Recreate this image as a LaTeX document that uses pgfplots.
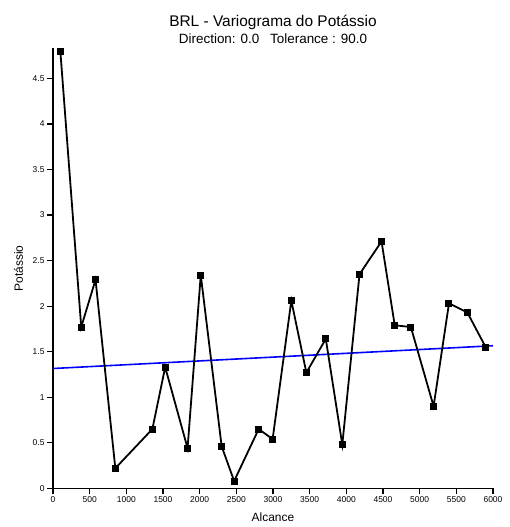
\documentclass[border=0pt]{standalone}
\usepackage{pgfplots}
\pgfplotsset{compat=1.18}
\usepackage{fontspec}
\setmainfont{Liberation Sans}
\begin{document}
\begin{tikzpicture}
\begin{axis}[
  at={(0,0)}, anchor=south west,
  scale only axis, width=440bp, height=440bp,
  xmin=0, xmax=6000, ymin=0, ymax=4.83,
  axis lines=left,
  axis line style={line width=1.6pt,-},
  xtick={0,500,...,6000},
  ytick={0,0.5,...,4.5},
  xticklabels={0,500,1000,1500,2000,2500,3000,3500,4000,4500,5000,5500,6000},
  yticklabels={0,0.5,1,1.5,2,2.5,3,3.5,4,4.5},
  tick align=outside,
  major tick length=6bp,
  tick style={line width=1.2pt,black},
  tick label style={font=\fontsize{8.5}{9}\selectfont},
  xticklabel style={yshift=1bp},
  yticklabel style={xshift=1bp},
  scaled x ticks=false,
  xlabel={Alcance},
  ylabel={Potássio},
  xlabel style={font=\fontsize{12}{14}\selectfont, yshift=-3bp},
  ylabel style={font=\fontsize{12}{14}\selectfont, yshift=3bp},
  clip=false,
]
\addplot[blue, line width=1.6pt] coordinates {(0,1.315) (6000,1.565)};
\addplot[black, line width=1.8pt, mark=square*, mark size=2.6bp, mark options={solid,fill=black}] coordinates {
(100,4.80)
(385,1.77)
(580,2.29)
(850,0.22)
(1355,0.65)
(1530,1.33)
(1835,0.44)
(2015,2.34)
(2300,0.46)
(2470,0.08)
(2805,0.65)
(2995,0.54)
(3250,2.06)
(3455,1.27)
(3720,1.64)
(3945,0.48)
(4180,2.35)
(4480,2.71)
(4660,1.79)
(4880,1.77)
(5190,0.90)
(5400,2.03)
(5650,1.93)
(5900,1.55)
};
\end{axis}
\node[anchor=base, font=\fontsize{15.5}{18}\selectfont] at (220bp,461.6bp) {BRL - Variograma do Potássio};
\node[anchor=base, font=\fontsize{13.5}{16}\selectfont] at (220bp,445bp) {Direction: 0.0\hspace{0.8em}Tolerance : 90.0};
\path[use as bounding box] (-53bp,-38.7bp) rectangle (457bp,488.3bp);
\end{tikzpicture}
\end{document}
